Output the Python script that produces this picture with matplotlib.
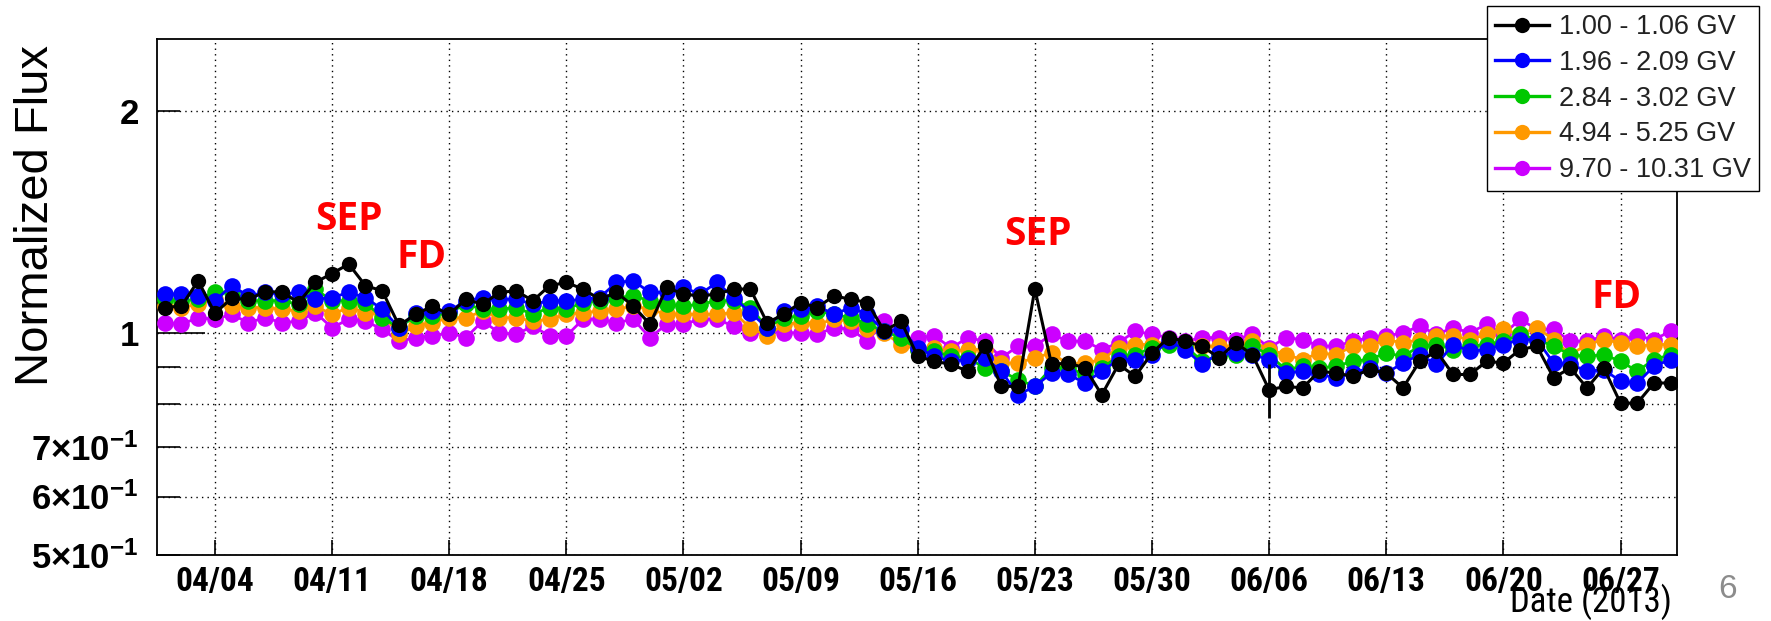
import pandas as pd
import matplotlib
matplotlib.use("Agg")
import matplotlib.pyplot as plt
import matplotlib.dates as mdates
from matplotlib import font_manager as fm
from matplotlib.lines import Line2D
from matplotlib.ticker import NullLocator, NullFormatter

plt.rcParams["font.family"] = ["Liberation Sans", "DejaVu Sans"]
plt.rcParams["mathtext.fontset"] = "custom"
plt.rcParams["mathtext.rm"] = "Liberation Sans:bold"
plt.rcParams["mathtext.it"] = "Liberation Sans:bold"
plt.rcParams["mathtext.bf"] = "Liberation Sans:bold"

# a narrow Helvetica-like face for the date labels, if one is installed
installed = {f.name for f in fm.fontManager.ttflist}
narrow = next((n for n in ["Liberation Sans Narrow", "Arial Narrow",
                           "Nimbus Sans Narrow", "Roboto Condensed"]
               if n in installed), None)

# daily points, 2013-04-01 .. 2013-06-30
dates = pd.date_range("2013-04-01", "2013-06-30", freq="D")
tick_dates = pd.date_range("2013-04-04", "2013-06-27", freq="7D")

labels = ["1.00 - 1.06 GV", "1.96 - 2.09 GV", "2.84 - 3.02 GV",
          "4.94 - 5.25 GV", "9.70 - 10.31 GV"]
colors = ["black", "#0000ff", "#00c800", "#ff9900", "#cc00ff"]

flux_1GV = [1.082, 1.087, 1.176, 1.063, 1.113, 1.110, 1.136, 1.136, 1.099, 1.170,
            1.203, 1.239, 1.158, 1.140, 1.023, 1.059, 1.087, 1.059, 1.110, 1.093,
            1.134, 1.140, 1.105, 1.158, 1.170, 1.146, 1.110, 1.134, 1.087, 1.027,
            1.152, 1.128, 1.122, 1.128, 1.146, 1.146, 1.032, 1.059, 1.099, 1.082,
            1.122, 1.110, 1.099, 1.005, 1.037, 0.929, 0.915, 0.906, 0.887, 0.959,
            0.846, 0.846, 1.146, 0.906, 0.910, 0.896, 0.824, 0.906, 0.873, 0.939,
            0.985, 0.974, 0.959, 0.925, 0.969, 0.934, 0.837, 0.846, 0.842, 0.887,
            0.882, 0.873, 0.891, 0.882, 0.842, 0.915, 0.944, 0.878, 0.878, 0.915,
            0.910, 0.949, 0.959, 0.869, 0.896, 0.842, 0.896, 0.803, 0.803, 0.855,
            0.855]
err_1GV = [0.012] * 66 + [0.07] + [0.012] * 24

flux_2GV = [1.128, 1.128, 1.122, 1.105, 1.158, 1.122, 1.134, 1.128, 1.134, 1.110,
            1.116, 1.134, 1.116, 1.076, 1.016, 1.065, 1.070, 1.070, 1.105, 1.116,
            1.110, 1.110, 1.093, 1.105, 1.105, 1.110, 1.116, 1.170, 1.176, 1.134,
            1.134, 1.152, 1.128, 1.170, 1.116, 1.065, 1.016, 1.070, 1.076, 1.087,
            1.059, 1.082, 1.059, 1.005, 1.011, 0.954, 0.929, 0.915, 0.920, 0.925,
            0.887, 0.824, 0.846, 0.882, 0.878, 0.855, 0.887, 0.920, 0.920, 0.934,
            0.974, 0.949, 0.906, 0.939, 0.939, 0.934, 0.920, 0.882, 0.887, 0.878,
            0.869, 0.882, 0.896, 0.882, 0.910, 0.934, 0.906, 0.964, 0.944, 0.949,
            0.964, 0.979, 0.979, 0.910, 0.906, 0.887, 0.891, 0.860, 0.855, 0.901,
            0.920]

flux_3GV = [1.110, 1.105, 1.110, 1.134, 1.134, 1.105, 1.105, 1.105, 1.093, 1.146,
            1.105, 1.105, 1.099, 1.048, 1.016, 1.054, 1.054, 1.065, 1.093, 1.076,
            1.076, 1.082, 1.059, 1.082, 1.076, 1.099, 1.105, 1.116, 1.122, 1.105,
            1.093, 1.087, 1.093, 1.105, 1.105, 1.082, 1.016, 1.048, 1.054, 1.070,
            1.059, 1.048, 1.027, 1.005, 0.985, 0.949, 0.944, 0.929, 0.925, 0.896,
            0.887, 0.864, 0.846, 0.896, 0.896, 0.878, 0.896, 0.929, 0.934, 0.954,
            0.964, 0.959, 0.915, 0.929, 0.934, 0.959, 0.934, 0.891, 0.901, 0.896,
            0.901, 0.915, 0.920, 0.939, 0.929, 0.959, 0.964, 0.949, 0.959, 0.964,
            0.974, 0.995, 0.979, 0.959, 0.934, 0.929, 0.934, 0.915, 0.887, 0.920,
            0.934]

flux_5GV = [1.087, 1.082, 1.093, 1.110, 1.087, 1.082, 1.082, 1.076, 1.070, 1.087,
            1.059, 1.082, 1.065, 1.059, 0.995, 1.021, 1.032, 1.048, 1.048, 1.070,
            1.048, 1.048, 1.037, 1.043, 1.059, 1.065, 1.070, 1.076, 1.087, 1.076,
            1.059, 1.059, 1.059, 1.059, 1.065, 1.016, 0.990, 1.027, 1.032, 1.027,
            1.043, 1.037, 1.011, 1.000, 0.964, 0.949, 0.954, 0.944, 0.949, 0.949,
            0.910, 0.910, 0.925, 0.939, 0.906, 0.910, 0.920, 0.954, 0.964, 0.964,
            0.974, 0.969, 0.959, 0.959, 0.959, 0.974, 0.949, 0.934, 0.920, 0.939,
            0.934, 0.959, 0.959, 0.979, 0.969, 0.979, 0.990, 0.990, 0.979, 0.995,
            1.011, 0.995, 1.016, 0.979, 0.934, 0.964, 0.979, 0.969, 0.959, 0.964,
            0.964]

flux_10GV = [1.032, 1.027, 1.048, 1.043, 1.059, 1.032, 1.048, 1.032, 1.037, 1.065,
             1.016, 1.043, 1.037, 1.011, 0.974, 0.985, 0.990, 1.000, 0.985, 1.037,
             1.000, 0.995, 1.021, 0.990, 0.990, 1.043, 1.043, 1.032, 1.043, 0.985,
             1.027, 1.027, 1.043, 1.043, 1.021, 1.000, 1.005, 1.000, 1.000, 0.995,
             1.016, 1.011, 0.974, 1.037, 0.979, 0.985, 0.990, 0.954, 0.985, 0.974,
             0.925, 0.959, 0.959, 0.995, 0.974, 0.974, 0.949, 0.969, 1.005, 0.995,
             0.985, 0.974, 0.985, 0.985, 0.979, 0.995, 0.954, 0.985, 0.979, 0.959,
             0.959, 0.974, 0.985, 0.990, 1.000, 1.021, 0.995, 1.016, 1.000, 1.027,
             0.995, 1.043, 1.011, 1.011, 0.974, 0.974, 0.990, 0.979, 0.990, 0.979,
             1.005]

y_ticks = [0.5, 0.6, 0.7, 0.8, 0.9, 1, 2]
y_ticklabels = [r"$5{\times}10^{-1}$", r"$6{\times}10^{-1}$", r"$7{\times}10^{-1}$",
                "", "", r"$1$", r"$2$"]

W, H = 1771, 621
fig = plt.figure(figsize=(W / 100, H / 100), dpi=100)
ax = fig.add_axes([157 / W, 1 - 555 / H, 1520 / W, 516 / H])

series = [flux_1GV, flux_2GV, flux_3GV, flux_5GV, flux_10GV]
for k in range(4, 0, -1):
    ax.plot(dates, series[k], "-o", color=colors[k], lw=2.0, ms=12, mew=0,
            zorder=3 + (4 - k))
ax.errorbar(dates, flux_1GV, yerr=err_1GV, fmt="-o", color="black", lw=2.2,
            ms=11, mew=0, capsize=5, elinewidth=2, capthick=2, zorder=10)

ax.set_yscale("log")
ax.set_ylim(0.5, 2.5)
ax.set_xlim(pd.Timestamp("2013-03-31 13:00"), pd.Timestamp("2013-06-30 09:00"))
ax.set_yticks(y_ticks)
ax.set_yticklabels(y_ticklabels)
ax.yaxis.set_minor_locator(NullLocator())
ax.yaxis.set_minor_formatter(NullFormatter())
ax.set_xticks(tick_dates)
ax.xaxis.set_major_formatter(mdates.DateFormatter("%m/%d"))

ax.tick_params(axis="x", direction="in", length=11, width=1.2, pad=8)
ax.tick_params(axis="y", direction="in", length=16.5, width=1.2, labelsize=25, pad=13)
for lab in ax.get_xticklabels():
    lab.set_fontweight("bold")
    if narrow:
        lab.set_family(narrow)
        lab.set_fontsize(24)
    else:
        lab.set_fontsize(22.5)
for t in ax.yaxis.get_major_ticks():
    if t.get_loc() == 1:
        t.tick1line.set_markersize(34.5)

ax.grid(True, color="black", linestyle=(0, (1, 3)), linewidth=1.0)
ax.set_axisbelow(True)
for s in ax.spines.values():
    s.set_linewidth(1.3)

# event annotations
red = dict(color="#ff0000", fontsize=28, fontweight="bold", family="Open Sans",
           ha="center", va="center")
ax.text(pd.Timestamp("2013-04-12 00:00"), 1.425, "SEP", **red)
ax.text(pd.Timestamp("2013-04-16 08:00"), 1.263, "FD", **red)
ax.text(pd.Timestamp("2013-05-23 05:00"), 1.360, "SEP", **red)
ax.text(pd.Timestamp("2013-06-26 18:00"), 1.115, "FD", **red)

fig.text(36 / W, 1 - 216 / H, "Normalized Flux", rotation=90, ha="center",
         va="center", fontsize=34)
fig.text(1672 / W, 0.5 / H, "Date (2013)", ha="right", va="bottom",
         fontsize=25 if narrow else 23, family=narrow if narrow else "Liberation Sans")
fig.text(1728 / W, 1 - 590 / H, "6", ha="center", va="center", fontsize=24,
         color="#8c8c8c")

handles = [Line2D([], [], color=c, lw=2.4, marker="o", ms=11, mew=0) for c in colors]
leg = fig.legend(handles, labels, loc="upper left",
                 bbox_to_anchor=(1487 / W, 1 - 6 / H), frameon=True,
                 fancybox=False, edgecolor="black", framealpha=1,
                 prop={"size": 19.5}, handlelength=2.0, handletextpad=0.35,
                 labelspacing=0.36, borderpad=0.3, borderaxespad=0)
leg.get_frame().set_linewidth(1.0)
leg.set_zorder(20)
for t in leg.get_texts():
    t.set_color("#222222")

fig.savefig("out.png", dpi=100)
